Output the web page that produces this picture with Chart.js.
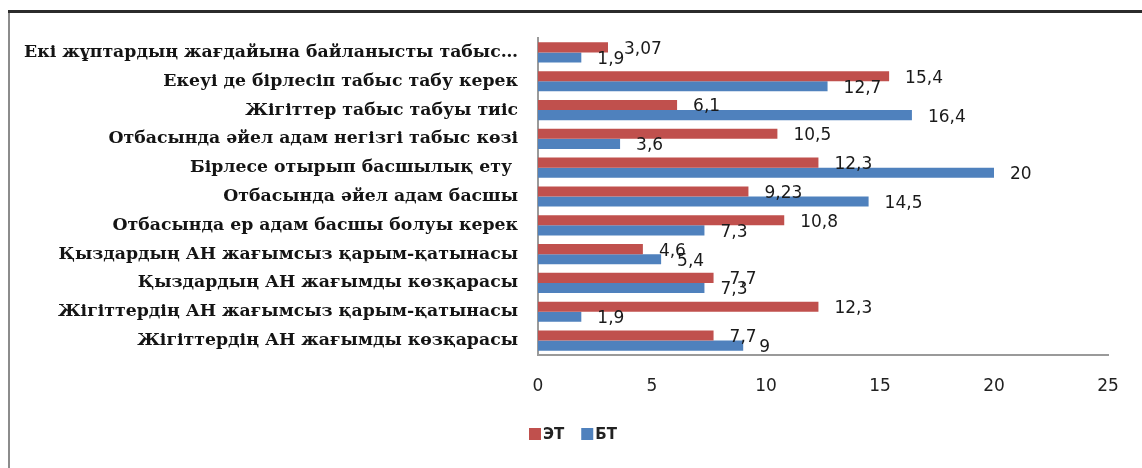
<!DOCTYPE html>
<html>
<head>
<meta charset="utf-8">
<script src="https://cdn.jsdelivr.net/npm/chart.js@4.4.1/dist/chart.umd.min.js"></script>
<style>
  html, body { margin: 0; padding: 0; background: #ffffff; }
  #wrap { position: relative; width: 1142px; height: 468px; }
</style>
</head>
<body>
<div id="wrap"><canvas id="c" width="1142" height="468"></canvas></div>
<script>
const categories = [
  "Екі жұптардың жағдайына байланысты табыс…",
  "Екеуі де бірлесіп табыс табу керек",
  "Жігіттер табыс табуы тиіс",
  "Отбасында әйел адам негізгі табыс көзі",
  "Бірлесе отырып басшылық ету ",
  "Отбасында әйел адам басшы",
  "Отбасында ер адам басшы болуы керек",
  "Қыздардың АН жағымсыз қарым-қатынасы",
  "Қыздардың АН жағымды көзқарасы",
  "Жігіттердің АН жағымсыз қарым-қатынасы",
  "Жігіттердің АН жағымды көзқарасы"
];
const seriesNames = ["ЭТ", "БТ"];
const etValues = [3.07, 15.4, 6.1, 10.5, 12.3, 9.23, 10.8, 4.6, 7.7, 12.3, 7.7];
const btValues = [1.9, 12.7, 16.4, 3.6, 20, 14.5, 7.3, 5.4, 7.3, 1.9, 9];
const xTicks = [0, 5, 10, 15, 20, 25];

const RED = "#C0504D";
const BLUE = "#4F81BD";

const framePlugin = {
  id: "frame",
  beforeDraw(chart) {
    const ctx = chart.ctx;
    ctx.save();
    ctx.fillStyle = "#ffffff";
    ctx.fillRect(0, 0, chart.width, chart.height);
    ctx.strokeStyle = "#8c8c8c";
    ctx.lineWidth = 2;
    ctx.beginPath();
    ctx.moveTo(9, 11);
    ctx.lineTo(9, chart.height);
    ctx.stroke();
    ctx.strokeStyle = "#2b2b2b";
    ctx.lineWidth = 3;
    ctx.beginPath();
    ctx.moveTo(8, 11.5);
    ctx.lineTo(chart.width, 11.5);
    ctx.stroke();
    ctx.restore();
  }
};

const labelPlugin = {
  id: "valueLabels",
  afterDatasetsDraw(chart) {
    const ctx = chart.ctx;
    ctx.save();
    ctx.font = "17px 'DejaVu Sans'";
    ctx.fillStyle = "#1a1a1a";
    ctx.textAlign = "left";
    ctx.textBaseline = "middle";
    chart.data.datasets.forEach((ds, di) => {
      const meta = chart.getDatasetMeta(di);
      meta.data.forEach((el, i) => {
        const v = ds.data[i];
        const txt = String(v).replace(".", ",");
        ctx.fillText(txt, el.x + 16, el.y + 2);
      });
    });
    ctx.restore();
  }
};

const legendPlugin = {
  id: "customLegend",
  afterDraw(chart) {
    const ctx = chart.ctx;
    ctx.save();
    ctx.font = "bold 15px 'DejaVu Sans'";
    ctx.textBaseline = "middle";
    ctx.textAlign = "left";
    let x = 529;
    const y = 434;
    chart.data.datasets.forEach(ds => {
      ctx.fillStyle = ds.backgroundColor;
      ctx.fillRect(x, y - 6, 12, 12);
      ctx.fillStyle = "#222222";
      ctx.fillText(ds.label, x + 14, y + 1);
      x += 14 + ctx.measureText(ds.label).width + 17;
    });
    ctx.restore();
  }
};

new Chart(document.getElementById("c"), {
  type: "bar",
  data: {
    labels: categories,
    datasets: [
      { label: seriesNames[0], data: etValues, backgroundColor: RED, borderWidth: 0 },
      { label: seriesNames[1], data: btValues, backgroundColor: BLUE, borderWidth: 0 }
    ]
  },
  options: {
    indexAxis: "y",
    responsive: false,
    animation: false,
    devicePixelRatio: 1,
    layout: { padding: { top: 38, right: 34, bottom: 0, left: 0 } },
    datasets: { bar: { categoryPercentage: 0.7, barPercentage: 1.0 } },
    plugins: {
      legend: { display: false },
      tooltip: { enabled: false },
      title: { display: false }
    },
    scales: {
      x: {
        min: 0,
        max: 25,
        afterBuildTicks(scale) { scale.ticks = xTicks.map(v => ({ value: v })); },
        afterFit(scale) { scale.height = 113; scale.paddingLeft = 0; scale.paddingRight = 0; },
        grid: { display: false, drawTicks: false },
        border: { display: true, color: "#9a9a9a", width: 2 },
        ticks: {
          padding: 21,
          color: "#222222",
          font: { family: "'DejaVu Sans'", size: 17 },
          maxRotation: 0
        }
      },
      y: {
        afterFit(scale) { scale.width = 538; scale.paddingTop = 0; scale.paddingBottom = 0; },
        grid: { display: false, drawTicks: false },
        border: { display: true, color: "#9a9a9a", width: 2 },
        ticks: {
          autoSkip: false,
          padding: 20,
          color: "#141414",
          font: { family: "'DejaVu Serif'", size: 17.3, weight: "bold" }
        }
      }
    }
  },
  plugins: [framePlugin, labelPlugin, legendPlugin]
});
</script>
</body>
</html>
